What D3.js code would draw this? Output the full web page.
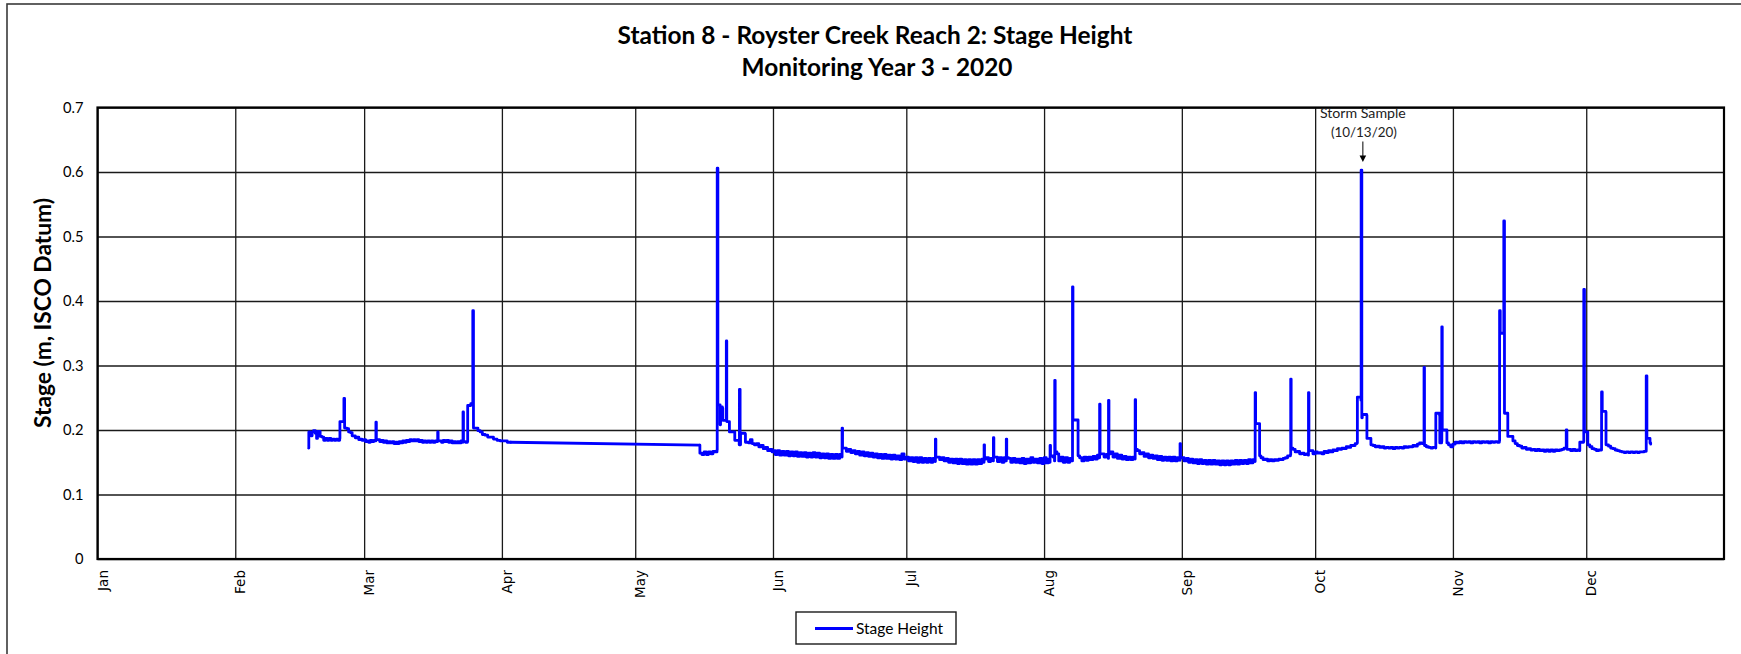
<!DOCTYPE html>
<html><head><meta charset="utf-8">
<script src="https://cdn.jsdelivr.net/npm/d3@7"></script>
<style>body{margin:0;background:#fff}svg{display:block}</style>
</head><body>
<svg id="chart" width="1741" height="654"></svg>
<script>
// ---------- data (day = days since 2020-01-01, stage in metres) ----------
const titleLines = ["Station 8 - Royster Creek Reach 2: Stage Height", "Monitoring Year 3 - 2020"];
const yAxisTitle = "Stage (m, ISCO Datum)";
const seriesName = "Stage Height";
const yTicks = [0, 0.1, 0.2, 0.3, 0.4, 0.5, 0.6, 0.7];
const monthTicks = ["2020-01-01","2020-02-01","2020-03-01","2020-04-01","2020-05-01","2020-06-01","2020-07-01","2020-08-01","2020-09-01","2020-10-01","2020-11-01","2020-12-01"];
const annotationLines = ["Storm Sample", "(10/13/20)"];
const annotationDay = 284.4;
const annotationValue = 0.603;

const segFebApr = [[47.50,0.172],[47.55,0.197],[48.0,0.191],[48.3,0.197],[48.6,0.199],[49.0,0.195],[49.3,0.187],[49.5,0.198],[49.8,0.198],[50.1,0.190],[50.5,0.189],[50.9,0.184],[51.3,0.187],[51.7,0.184],[52.1,0.187],[52.5,0.184],[52.9,0.186],[53.3,0.184],[53.7,0.186],[54.1,0.184],[54.5,0.187],[54.55,0.213],[55.4,0.214],[55.45,0.249],[55.55,0.249],[55.6,0.203],[56.1,0.202],[56.5,0.197],[56.9,0.196],[57.3,0.191],[57.6,0.191],[58.0,0.188],[58.4,0.189],[58.8,0.185],[59.1,0.186],[59.5,0.184],[59.9,0.185],[60.3,0.182],[60.6,0.183],[61.0,0.181],[61.4,0.184],[61.8,0.182],[62.2,0.184],[62.6,0.183],[62.65,0.212],[62.75,0.185],[63.1,0.185],[63.5,0.182],[63.9,0.184],[64.3,0.181],[64.7,0.183],[65.1,0.180],[65.5,0.182],[65.9,0.180],[66.3,0.182],[66.7,0.179],[67.1,0.181],[67.5,0.179],[67.9,0.182],[68.3,0.180],[68.7,0.183],[69.1,0.181],[69.5,0.184],[69.9,0.182],[70.3,0.185],[70.7,0.183],[71.1,0.185],[71.5,0.183],[71.9,0.185],[72.3,0.182],[72.7,0.184],[73.1,0.181],[73.5,0.183],[73.9,0.181],[74.3,0.183],[74.7,0.181],[75.1,0.183],[75.5,0.181],[76.0,0.183],[76.5,0.182],[76.55,0.197],[76.65,0.183],[77.0,0.183],[77.4,0.181],[77.8,0.184],[78.2,0.182],[78.6,0.184],[79.0,0.181],[79.4,0.183],[79.8,0.180],[80.2,0.182],[80.6,0.180],[81.0,0.182],[81.4,0.180],[81.8,0.183],[82.2,0.181],[82.25,0.228],[82.35,0.182],[82.8,0.181],[83.25,0.182],[83.3,0.238],[84.0,0.241],[84.4,0.243],[84.45,0.385],[84.55,0.385],[84.6,0.203],[85.2,0.203],[85.6,0.199],[86.1,0.197],[86.6,0.193],[87.2,0.192],[87.8,0.189],[88.4,0.189],[89.1,0.186],[89.9,0.184],[90.6,0.183],[91.4,0.183],[92.2,0.181],[93.0,0.181]];

const segMayJun = [[135.5,0.1767],[135.55,0.164],[136.0,0.162],[136.5,0.166],[137.0,0.162],[137.5,0.166],[138.0,0.163],[138.5,0.167],[139.0,0.166],[139.4,0.169],[139.45,0.606],[139.55,0.606],[139.6,0.239],[140.0,0.239],[140.1,0.208],[140.2,0.236],[140.6,0.234],[140.7,0.215],[141.45,0.215],[141.5,0.338],[141.6,0.213],[142.1,0.213],[142.2,0.197],[143.3,0.197],[143.4,0.184],[144.2,0.184],[144.4,0.177],[144.45,0.263],[144.55,0.263],[144.6,0.177],[144.7,0.195],[145.7,0.194],[145.8,0.181],[146.5,0.180],[146.9,0.185],[147.3,0.179],[147.8,0.177],[148.3,0.179],[148.8,0.174],[149.3,0.176],[149.8,0.171],[150.3,0.173],[150.8,0.168],[151.3,0.170],[151.8,0.166],
[152.0,0.168],[152.5,0.162],[153.0,0.168],[153.5,0.161],[154.0,0.167],[154.5,0.161],[155.0,0.167],[155.5,0.160],[156.0,0.166],[156.5,0.160],[157.0,0.166],[157.5,0.159],[158.0,0.165],[158.5,0.159],[159.0,0.165],[159.5,0.158],[160.0,0.164],[160.5,0.158],[161.0,0.165],[161.5,0.158],[162.0,0.164],[162.5,0.157],[163.0,0.163],[163.5,0.157],[164.0,0.163],[164.5,0.156],[165.0,0.162],[165.5,0.156],[166.0,0.162],[166.5,0.156],[167.0,0.162],[167.5,0.158],[167.55,0.203],[167.65,0.172],[168.0,0.172],[168.5,0.167],[169.0,0.170],[169.5,0.165],[170.0,0.168],[170.5,0.163],[171.0,0.167],[171.5,0.161],[172.0,0.166],[172.5,0.160],[173.0,0.165],[173.5,0.159],[174.0,0.164],[174.5,0.158],[175.0,0.163],[175.5,0.157],[176.0,0.162],[176.5,0.156],[177.0,0.162],[177.5,0.156],[178.0,0.161],[178.5,0.155],[179.0,0.161],[179.5,0.155],[180.0,0.160],[180.5,0.154],[181.0,0.163],[181.5,0.155]];

const segJul = [[182.0,0.158],[182.5,0.152],[183.0,0.157],[183.5,0.151],[184.0,0.157],[184.5,0.150],[185.0,0.157],[185.5,0.150],[186.0,0.156],[186.5,0.150],[187.0,0.156],[187.5,0.150],[188.0,0.156],[188.5,0.151],[188.55,0.186],[188.65,0.158],[189.0,0.158],[189.5,0.154],[190.0,0.157],[190.5,0.152],[191.0,0.156],[191.5,0.150],[192.0,0.155],[192.5,0.149],[193.0,0.155],[193.5,0.148],[194.0,0.155],[194.5,0.148],[195.0,0.154],[195.5,0.147],[196.0,0.154],[196.5,0.147],[197.0,0.154],[197.5,0.147],[198.0,0.154],[198.5,0.148],[199.0,0.155],[199.45,0.150],[199.5,0.177],[199.6,0.155],[200.0,0.157],[200.5,0.151],[201.0,0.156],[201.55,0.152],[201.6,0.188],[201.7,0.158],[202.0,0.158],[202.5,0.151],[203.0,0.157],[203.5,0.150],[204.0,0.157],[204.45,0.152],[204.5,0.186],[204.6,0.157],[205.0,0.156],[205.5,0.150],[206.0,0.156],[206.5,0.150],[207.0,0.155],[207.5,0.149],[208.0,0.156],[208.5,0.148],[209.0,0.155],[209.5,0.149],[210.0,0.157],[210.5,0.150],[211.0,0.155],[211.5,0.149],[212.0,0.156],[212.5,0.148],[213.0,0.157],[213.5,0.149]];

const segAug = [[214.0,0.155],[214.3,0.150],[214.35,0.176],[214.45,0.160],[215.0,0.158],[215.35,0.152],[215.4,0.277],[215.5,0.166],[215.9,0.163],[216.3,0.152],[216.8,0.158],[217.3,0.150],[217.8,0.157],[218.3,0.150],[218.8,0.156],[219.35,0.152],[219.4,0.422],[219.5,0.2155],[220.6,0.2155],[220.65,0.160],[221.0,0.157],[221.5,0.152],[222.0,0.158],[222.5,0.153],[223.0,0.158],[223.5,0.154],[224.0,0.159],[224.5,0.155],[225.0,0.161],[225.45,0.157],[225.5,0.240],[225.6,0.163],[226.0,0.163],[226.5,0.158],[227.0,0.162],[227.45,0.156],[227.5,0.246],[227.6,0.163],[228.0,0.166],[228.5,0.158],[229.0,0.163],[229.5,0.156],[230.0,0.161],[230.5,0.155],[231.0,0.159],[231.5,0.154],[232.0,0.158],[232.5,0.154],[233.0,0.158],[233.45,0.155],[233.5,0.247],[233.6,0.170],[234.0,0.168],[234.5,0.163],[235.0,0.165],[235.5,0.159],[236.0,0.163],[236.5,0.157],[237.0,0.161],[237.5,0.156],[238.0,0.160],[238.5,0.154],[239.0,0.159],[239.5,0.153],[240.0,0.158],[240.5,0.153],[241.0,0.158],[241.5,0.152],[242.0,0.158],[242.5,0.152],[243.0,0.157],[243.55,0.153],[243.6,0.179],[243.7,0.157]];

const segSep = [[244.0,0.157],[244.5,0.152],[245.0,0.156],[245.5,0.150],[246.0,0.155],[246.5,0.149],[247.0,0.154],[247.5,0.148],[248.0,0.154],[248.5,0.148],[249.0,0.153],[249.5,0.147],[250.0,0.153],[250.5,0.147],[251.0,0.153],[251.5,0.147],[252.0,0.152],[252.5,0.146],[253.0,0.152],[253.5,0.146],[254.0,0.152],[254.5,0.146],[255.0,0.152],[255.5,0.147],[256.0,0.153],[256.5,0.147],[257.0,0.153],[257.5,0.148],[258.0,0.153],[258.5,0.148],[259.0,0.154],[259.5,0.149],[260.0,0.154],[260.45,0.151],[260.5,0.258],[260.6,0.210],[261.4,0.210],[261.5,0.160],[261.8,0.157],[262.3,0.154],[262.8,0.155],[263.3,0.152],[263.8,0.154],[264.3,0.152],[264.8,0.154],[265.3,0.153],[265.8,0.155],[266.3,0.154],[266.8,0.156],[267.3,0.157],[267.8,0.160],[268.45,0.162],[268.5,0.279],[268.6,0.172],[269.0,0.170],[269.5,0.166],[270.0,0.167],[270.5,0.163],[271.0,0.164],[271.5,0.162],[272.0,0.163],[272.45,0.161],[272.5,0.258],[272.6,0.168],[273.0,0.168],[273.5,0.163]];

const segOct = [[274.0,0.166],[274.5,0.164],[275.0,0.165],[275.5,0.163],[276.0,0.167],[276.5,0.165],[277.0,0.168],[277.5,0.166],[278.0,0.169],[278.5,0.168],[279.0,0.171],[279.5,0.170],[280.0,0.172],[280.5,0.171],[281.0,0.174],[281.5,0.173],[282.0,0.176],[282.5,0.176],[283.0,0.179],[283.45,0.180],[283.5,0.251],[284.3,0.246],[284.35,0.603],[284.45,0.603],[284.5,0.219],[284.6,0.224],[285.6,0.223],[285.65,0.187],[286.5,0.187],[286.55,0.177],[287.0,0.176],[287.5,0.174],[288.0,0.175],[288.5,0.173],[289.0,0.174],[289.5,0.172],[290.0,0.173],[290.5,0.172],[291.0,0.173],[291.5,0.171],[292.0,0.173],[292.5,0.172],[293.0,0.173],[293.5,0.172],[294.0,0.174],[294.5,0.173],[295.0,0.174],[295.5,0.174],[296.0,0.176],[296.5,0.175],[297.0,0.178],[297.5,0.180],[298.0,0.179],[298.45,0.180],[298.5,0.297],[298.6,0.176],[299.0,0.174],[299.5,0.173],[300.0,0.172],[300.5,0.173],[301.1,0.172],[301.15,0.226],[302.0,0.222],[302.05,0.180],[302.45,0.182],[302.5,0.360],[302.6,0.200],[303.6,0.200],[303.65,0.180],[304.0,0.177],[304.5,0.174]];

const segNovDec = [[305.0,0.178],[305.5,0.181],[306.0,0.180],[306.5,0.182],[307.0,0.180],[307.5,0.182],[308.0,0.181],[308.5,0.182],[309.0,0.180],[309.5,0.182],[310.0,0.181],[310.5,0.182],[311.0,0.180],[311.5,0.182],[312.0,0.181],[312.5,0.182],[313.0,0.180],[313.5,0.182],[314.0,0.181],[314.5,0.182],[315.0,0.181],[315.45,0.183],[315.5,0.385],[315.6,0.385],[315.65,0.350],[316.4,0.350],[316.45,0.524],[316.55,0.524],[316.6,0.226],[317.3,0.226],[317.35,0.190],[318.3,0.190],[318.5,0.183],[319.0,0.179],[319.5,0.176],[320.0,0.175],[320.5,0.172],[321.0,0.173],[321.5,0.170],[322.0,0.171],[322.5,0.169],[323.0,0.170],[323.5,0.168],[324.0,0.170],[324.5,0.168],[325.0,0.169],[325.5,0.167],[326.0,0.169],[326.5,0.167],[327.0,0.169],[327.5,0.167],[328.0,0.169],[328.5,0.168],[329.0,0.169],[329.5,0.170],[330.0,0.172],[330.45,0.173],[330.5,0.200],[330.6,0.200],[330.65,0.170],[331.0,0.170],[331.5,0.168],[332.0,0.170],[332.5,0.168],[333.0,0.169],[333.5,0.168],[333.55,0.181],[334.4,0.182],[334.45,0.418],[334.55,0.418],[334.6,0.197],[335.3,0.197],[335.35,0.177],[335.8,0.174],[336.3,0.171],[336.8,0.170],[337.3,0.168],[337.8,0.169],[338.4,0.169],[338.45,0.259],[338.55,0.259],[338.6,0.229],[339.4,0.228],[339.45,0.177],[340.0,0.175],[340.5,0.172],[341.0,0.171],[341.5,0.169],[342.0,0.168],[342.5,0.167],[343.0,0.166],[343.5,0.165],[344.0,0.166],[344.5,0.165],[345.0,0.166],[345.5,0.165],[346.0,0.166],[346.5,0.165],[347.0,0.166],[347.5,0.166],[348.0,0.167],[348.45,0.167],[348.5,0.284],[348.6,0.284],[348.65,0.187],[349.3,0.187],[349.35,0.180],[349.5,0.178]];

// ---------- drawing ----------
const svg = d3.select("#chart");
const W = 1741, H = 654;
const plot = {left: 97.5, right: 1724, top: 107.5, bottom: 559};
const t0 = Date.UTC(2020, 0, 1);
const dayToDate = d => new Date(t0 + d * 864e5);
const toPts = seg => seg.map(([d, v]) => ({date: dayToDate(d), value: v}));
const spring = toPts(segFebApr);
const rest = toPts([].concat(segMayJun, segJul, segAug, segSep, segOct, segNovDec));
const months = monthTicks.map(s => new Date(s + "T00:00:00Z"));

const x = d3.scaleUtc().domain([new Date(Date.UTC(2020,0,1)), new Date(Date.UTC(2021,0,1))]).range([plot.left, plot.right]);
const y = d3.scaleLinear().domain([0, 0.7]).range([plot.bottom, plot.top]);

svg.append("rect").attr("width", W).attr("height", H).attr("fill", "#fff");
// outer chart frame
svg.append("rect").attr("x", 7).attr("y", 4).attr("width", 1780).attr("height", 700)
  .attr("fill", "none").attr("stroke", "#3a3a3a").attr("stroke-width", 1.6);

function fitText(sel, target) {
  const w = sel.node().getComputedTextLength();
  const fs = parseFloat(sel.attr("font-size"));
  sel.attr("font-size", (fs * target / w).toFixed(2));
}

// titles
const t1 = svg.append("text").attr("x", 875).attr("y", 44).attr("text-anchor", "middle")
  .attr("font-family", "Lato, sans-serif").attr("font-weight", "bold").attr("font-size", 20).attr("fill", "#000").text(titleLines[0]);
fitText(t1, 515);
const t2 = svg.append("text").attr("x", 877).attr("y", 76).attr("text-anchor", "middle")
  .attr("font-family", "Lato, sans-serif").attr("font-weight", "bold").attr("font-size", 20).attr("fill", "#000").text(titleLines[1]);
fitText(t2, 271);

// horizontal grid + y labels
const gy = svg.append("g").attr("transform", `translate(${plot.left},0)`)
  .call(d3.axisLeft(y).tickValues(yTicks).tickSize(-(plot.right - plot.left)).tickPadding(14)
    .tickFormat(d => d === 0 ? "0" : d3.format(".1f")(d)));
gy.select(".domain").remove();
gy.selectAll(".tick line").attr("stroke", "#1a1a1a").attr("stroke-width", 1.3);
const yLabels = gy.selectAll(".tick text").attr("font-family", "Lato, sans-serif").attr("font-size", 14).attr("fill", "#000");
{
  const ref = yLabels.filter(d => d === 0.7);
  const k = 20.5 / ref.node().getComputedTextLength();
  yLabels.attr("font-size", (14 * k).toFixed(2));
}

// vertical grid + month labels
const gx = svg.append("g").attr("transform", `translate(0,${plot.bottom})`)
  .call(d3.axisBottom(x).tickValues(months).tickSize(-(plot.bottom - plot.top)).tickFormat(d3.utcFormat("%b")));
gx.select(".domain").remove();
gx.selectAll(".tick line").attr("stroke", "#1a1a1a").attr("stroke-width", 1.3);
const xLabels = gx.selectAll(".tick text").attr("x", 0).attr("y", 0).attr("dy", null)
  .attr("text-anchor", "end")
  .attr("font-family", "DejaVu Sans, sans-serif").attr("font-size", 13).attr("fill", "#000");
{
  const ref = xLabels.filter((d, i) => i === 1);
  const k = 24 / ref.node().getComputedTextLength();
  const fs = 13 * k;
  xLabels.attr("font-size", fs.toFixed(2)).attr("transform", `translate(${(fs * 0.7).toFixed(1)},11) rotate(-90)`);
}

// data line: logged readings drawn as steps, the unlogged April-May gap as a straight join
const stepLine = d3.line().curve(d3.curveStepAfter).x(d => x(d.date)).y(d => y(d.value));
const joinLine = d3.line().x(d => x(d.date)).y(d => y(d.value));
const lineStyle = p => p.attr("fill", "none").attr("stroke", "#0000ff").attr("stroke-width", 2.8)
  .attr("stroke-linejoin", "round").attr("stroke-linecap", "round");
svg.append("path").datum(spring).attr("d", stepLine).call(lineStyle);
svg.append("path").datum([spring[spring.length - 1], rest[0]]).attr("d", joinLine).call(lineStyle);
svg.append("path").datum(rest).attr("d", stepLine).call(lineStyle);

// plot border
svg.append("rect").attr("x", plot.left).attr("y", plot.top)
  .attr("width", plot.right - plot.left).attr("height", plot.bottom - plot.top)
  .attr("fill", "none").attr("stroke", "#000").attr("stroke-width", 2.2);

// y axis title
const yt = svg.append("text").attr("transform", "translate(51,313) rotate(-90)").attr("text-anchor", "middle")
  .attr("font-family", "Lato, sans-serif").attr("font-weight", "bold").attr("font-size", 18).attr("fill", "#000").text(yAxisTitle);
fitText(yt, 230);

// annotation
const ax = x(dayToDate(annotationDay)) + 1.5;
const a1 = svg.append("text").attr("x", ax).attr("y", 118).attr("text-anchor", "middle")
  .attr("font-family", "Lato, sans-serif").attr("font-size", 13).attr("fill", "#222").text(annotationLines[0]);
fitText(a1, 86);
const a2 = svg.append("text").attr("x", ax + 1).attr("y", 137).attr("text-anchor", "middle")
  .attr("font-family", "Lato, sans-serif").attr("font-size", 13).attr("fill", "#222").text(annotationLines[1]);
fitText(a2, 66);
const tipY = y(annotationValue) - 8;
svg.append("line").attr("x1", ax).attr("x2", ax).attr("y1", 141.5).attr("y2", tipY - 5)
  .attr("stroke", "#000").attr("stroke-width", 1);
svg.append("path").attr("d", `M${ax - 3.3},${tipY - 6.5}L${ax + 3.3},${tipY - 6.5}L${ax},${tipY}Z`).attr("fill", "#000");

// legend
const lg = svg.append("g");
lg.append("rect").attr("x", 796).attr("y", 612).attr("width", 160).attr("height", 32)
  .attr("fill", "#fff").attr("stroke", "#1a1a1a").attr("stroke-width", 1.4);
lg.append("line").attr("x1", 815).attr("x2", 853).attr("y1", 628.5).attr("y2", 628.5)
  .attr("stroke", "#0000ff").attr("stroke-width", 2.8);
const lt = lg.append("text").attr("x", 856).attr("y", 634).attr("font-family", "Lato, sans-serif")
  .attr("font-size", 15).attr("fill", "#000").text(seriesName);
fitText(lt, 87);
</script>
</body></html>
